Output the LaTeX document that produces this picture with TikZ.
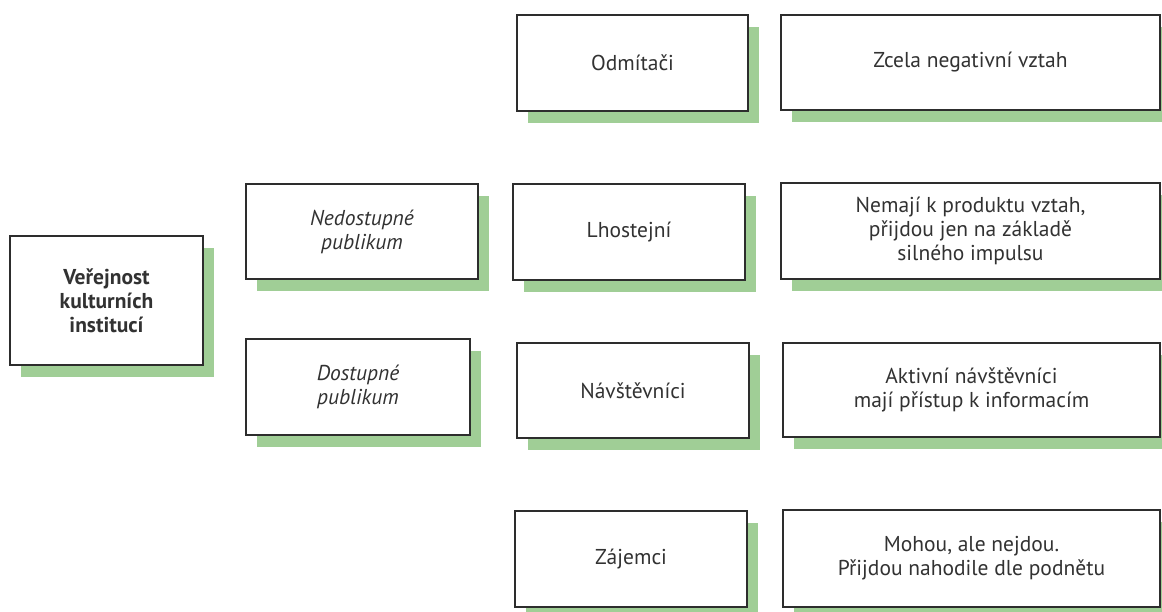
\documentclass[tikz,border=0pt]{standalone}
\usepackage{fontspec}
\setmainfont{PT Sans}
\usetikzlibrary{shadows}
\definecolor{shadowgreen}{RGB}{160,206,150}
\definecolor{frame}{RGB}{45,45,45}
\definecolor{ink}{RGB}{50,50,50}
\newcommand{\cardfont}{\fontsize{21.5}{24}\selectfont}
\tikzset{
  card/.style={draw=frame, line width=1.8pt, fill=white, rectangle,
    align=center, text=ink, inner sep=0pt, font=\cardfont,
    general shadow={fill=shadowgreen, shadow xshift=11pt, shadow yshift=-12pt}},
}
\begin{document}
\begin{tikzpicture}[x=1pt, y=-1pt]
  \useasboundingbox (0,0) rectangle (1162,611);
  \fill[white] (0,0) rectangle (1162,611);

  % root
  \node[card, minimum width=193pt, minimum height=129pt, font=\cardfont\bfseries]
    (root) at (106.5,300.5) {Veřejnost\\kulturních\\institucí};

  % audience groups
  \node[card, minimum width=232pt, minimum height=95pt, font=\cardfont\itshape]
    (nedost) at (362,231.5) {Nedostupné\\publikum};
  \node[card, minimum width=224pt, minimum height=96pt, font=\cardfont\itshape]
    (dost) at (358,387) {Dostupné\\publikum};

  % segments
  \node[card, minimum width=231pt, minimum height=96pt] (odm) at (632.5,63) {Odmítači};
  \node[card, minimum width=232pt, minimum height=96pt] (lho) at (629,232) {Lhostejní};
  \node[card, minimum width=232pt, minimum height=95pt] (nav) at (633,390.5) {Návštěvníci};
  \node[card, minimum width=232pt, minimum height=96pt] (zaj) at (631,559) {Zájemci};

  % descriptions
  \node[card, minimum width=379pt, minimum height=95pt] (dodm) at (970.5,62.5)
    {Zcela negativní vztah};
  \node[card, minimum width=379pt, minimum height=96pt] (dlho) at (970.5,231)
    {Nemají k produktu vztah,\\přijdou jen na základě\\silného impulsu};
  \node[card, minimum width=377pt, minimum height=94pt] (dnav) at (971.5,390)
    {Aktivní návštěvníci\\mají přístup k informacím};
  \node[card, minimum width=377pt, minimum height=97pt] (dzaj) at (971.5,558.5)
    {Mohou, ale nejdou.\\Přijdou nahodile dle podnětu};
\end{tikzpicture}
\end{document}
